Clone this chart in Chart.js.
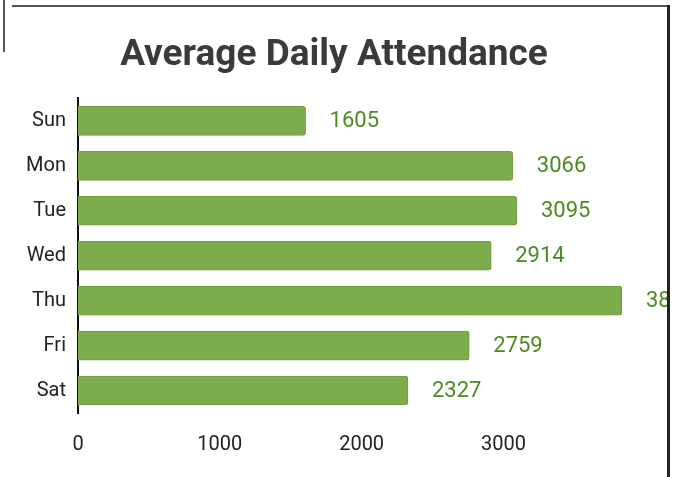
<!DOCTYPE html>
<html>
<head>
<meta charset="utf-8">
<script src="https://cdn.jsdelivr.net/npm/chart.js@4.4.0/dist/chart.umd.min.js"></script>
<style>
  html, body { margin: 0; padding: 0; background: #fff; }
  body { width: 679px; height: 477px; position: relative; overflow: hidden; }
  #wrap { position: absolute; left: 0; top: 0; width: 668px; height: 477px; overflow: hidden; }
  .edge { position: absolute; background: #333; }
</style>
</head>
<body>
<div id="wrap"><canvas id="chart"></canvas></div>
<!-- paper edges from the scan -->
<div class="edge" style="left:12px; top:5px; width:657px; height:2px; background:#555;"></div>
<div class="edge" style="left:667px; top:5px; width:3px; height:472px; background:#222;"></div>
<div class="edge" style="left:3px; top:0; width:2px; height:52px; background:#555;"></div>
<script>
// Chart data
const days = ['Sun', 'Mon', 'Tue', 'Wed', 'Thu', 'Fri', 'Sat'];
const attendance = [1605, 3066, 3095, 2914, 3836, 2759, 2327];
const xTicks = [0, 1000, 2000, 3000];

const chartTitle = 'Average Daily Attendance';
const barGreen = '#7dac4c';
const labelGreen = '#4d8a24';

// Value labels to the right of each bar
const valueLabels = {
    id: 'valueLabels',
    afterDatasetsDraw(chart) {
        const ctx = chart.ctx;
        const meta = chart.getDatasetMeta(0);
        ctx.save();
        ctx.font = '22px Roboto';
        ctx.fillStyle = labelGreen;
        ctx.textAlign = 'left';
        ctx.textBaseline = 'middle';
        meta.data.forEach(function(bar, i) {
            ctx.fillText(String(attendance[i]), bar.x + 24, bar.y + 1);
        });
        ctx.restore();
    }
};

Chart.defaults.font.family = 'Roboto';

new Chart(document.getElementById('chart'), {
    type: 'bar',
    data: {
        labels: days,
        datasets: [{
            data: attendance,
            backgroundColor: barGreen,
            borderColor: '#6f9d40',
            borderWidth: 1,
            borderRadius: 3,
            barThickness: 29
        }]
    },
    options: {
        indexAxis: 'y',
        responsive: true,
        maintainAspectRatio: false,
        animation: false,
        layout: { padding: { top: 10, right: 0, bottom: 0, left: 0 } },
        plugins: {
            legend: { display: false },
            tooltip: { enabled: false },
            title: {
                display: true,
                text: chartTitle,
                color: '#3a3a3a',
                font: { size: 37, weight: 'bold', family: 'Roboto' },
                padding: { top: 24, bottom: 20 }
            }
        },
        scales: {
            x: {
                min: 0,
                max: Math.max(...attendance),
                grid: { display: false, drawTicks: false },
                border: { display: false },
                afterBuildTicks: function(scale) {
                    scale.ticks = xTicks.map(v => ({ value: v }));
                },
                ticks: {
                    color: '#222',
                    font: { size: 20 },
                    padding: 20,
                    includeBounds: false,
                    callback: function(value) { return String(value); }
                }
            },
            y: {
                grid: { display: false, drawTicks: false },
                border: { display: true, color: '#111', width: 2 },
                afterFit: function(scale) { scale.width = 78; },
                ticks: {
                    color: '#222',
                    font: { size: 20 },
                    padding: 12
                }
            },
            // empty right-hand gutter so the title stays centred on the page
            gutter: {
                type: 'linear',
                position: 'right',
                display: true,
                grid: { display: false, drawTicks: false },
                border: { display: false },
                ticks: { display: false },
                afterFit: function(scale) { scale.width = 46; }
            }
        }
    },
    plugins: [valueLabels]
});
</script>
</body>
</html>
